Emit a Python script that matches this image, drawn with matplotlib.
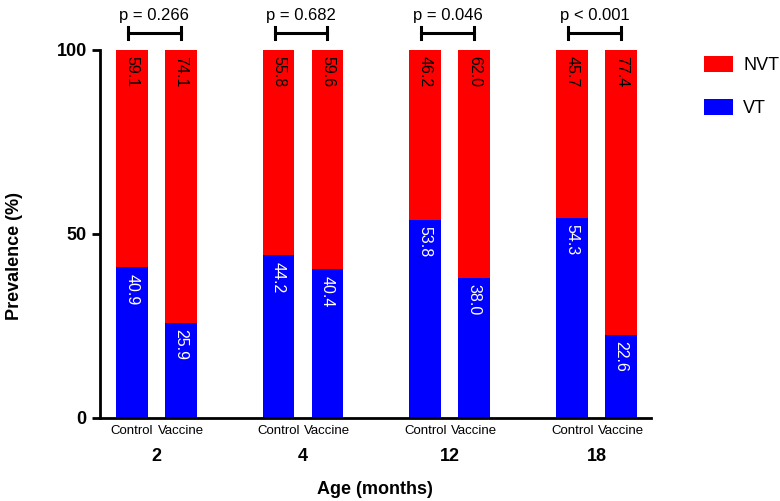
import matplotlib
matplotlib.use("Agg")
import matplotlib.pyplot as plt
import numpy as np

plt.rcParams['font.family'] = ['Liberation Sans', 'DejaVu Sans']

ages = ['2', '4', '12', '18']
arms = ['Control', 'Vaccine']
vt = [40.9, 25.9, 44.2, 40.4, 53.8, 38.0, 54.3, 22.6]
nvt = [59.1, 74.1, 55.8, 59.6, 46.2, 62.0, 45.7, 77.4]
p_values = ['p = 0.266', 'p = 0.682', 'p = 0.046', 'p < 0.001']

red = '#FF0000'
blue = '#0000FF'

fig = plt.figure(figsize=(7.8, 5.01), dpi=100)
ax = fig.add_axes([0.128, 0.1657, 0.706, 0.7345])

x = np.array([3 * g + k for g in range(len(ages)) for k in range(2)], dtype=float)
w = 0.65
ax.bar(x, vt, width=w, color=blue, label='VT')
ax.bar(x, nvt, bottom=vt, width=w, color=red, label='NVT')

for xi, v, n in zip(x, vt, nvt):
    ax.annotate(f'{v:.1f}', (xi, v), xytext=(0, -4.5), textcoords='offset points',
                rotation=-90, ha='center', va='top', color='white', fontsize=11.5)
    ax.annotate(f'{n:.1f}', (xi, 100), xytext=(0, -4.5), textcoords='offset points',
                rotation=-90, ha='center', va='top', color='black', fontsize=11.5)

# brackets with p-values
for g, p in enumerate(p_values):
    x0, x1 = 3 * g - 0.08, 3 * g + 1 + 0.0
    yb = 104.6
    ax.plot([x0, x1], [yb, yb], color='black', lw=2.2, clip_on=False)
    for xe in (x0, x1):
        ax.plot([xe, xe], [yb - 1.6, yb + 1.6], color='black', lw=2.2, clip_on=False)
    ax.text((x0 + x1) / 2, 109.5, p, ha='center', va='center', fontsize=12)

ax.set_xlim(-0.65, 10.6)
ax.set_ylim(0, 100)
ax.set_xticks(x)
ax.set_xticklabels(arms * len(ages), fontsize=9.5)
ax.tick_params(axis='x', length=0, pad=5)
ax.set_yticks([0, 50, 100])
ax.set_yticklabels(['0', '50', '100'], fontsize=13, fontweight='bold')
ax.tick_params(axis='y', length=6, width=2)
for s in ['top', 'right']:
    ax.spines[s].set_visible(False)
for s in ['left', 'bottom']:
    ax.spines[s].set_linewidth(2)

for g, a in enumerate(ages):
    ax.text(3 * g + 0.5, -10.5, a, ha='center', va='center', fontsize=13,
            fontweight='bold', transform=ax.transData)

ax.text(0.5, -0.195, 'Age (months)', ha='center', va='center', fontsize=13,
        fontweight='bold', transform=ax.transAxes)
fig.text(0.018, 0.49, 'Prevalence (%)', rotation=90, ha='center', va='center',
         fontsize=13, fontweight='bold')

handles, labels = ax.get_legend_handles_labels()
fig.legend(handles[::-1], labels[::-1], loc='upper left', bbox_to_anchor=(0.903, 1 - 56 / 501),
           frameon=False, fontsize=13, handlelength=1.6, handleheight=1.0,
           labelspacing=1.35, handletextpad=0.55, borderpad=0, borderaxespad=0)

fig.savefig('out.png', dpi=100)
